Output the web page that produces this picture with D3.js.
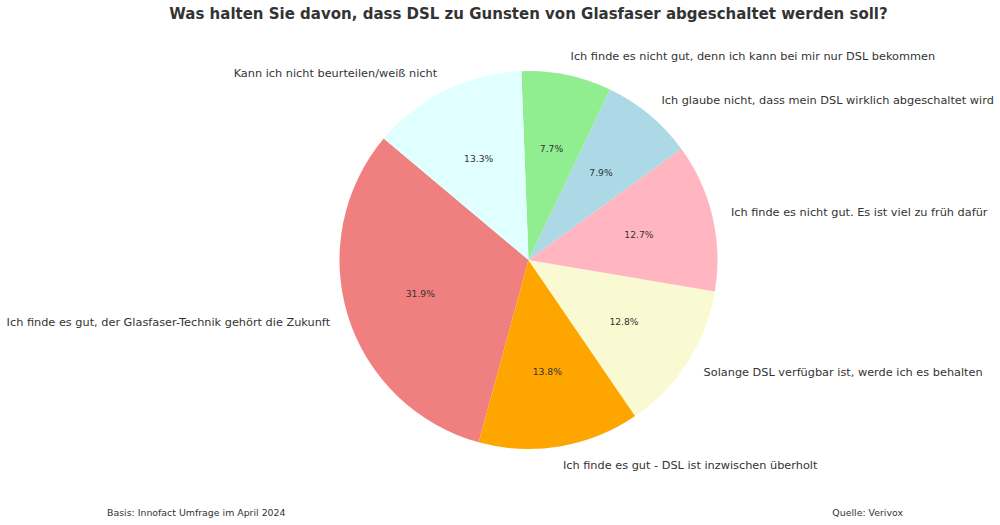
<!DOCTYPE html>
<html><head><meta charset="utf-8">
<script src="https://cdn.jsdelivr.net/npm/d3@7"></script>
<style>body{margin:0;background:#fff}</style>
</head><body>
<svg id="c" width="1000" height="525"></svg>
<script>
const categories = [
  "Ich finde es gut, der Glasfaser-Technik gehört die Zukunft",
  "Ich finde es gut - DSL ist inzwischen überholt",
  "Solange DSL verfügbar ist, werde ich es behalten",
  "Ich finde es nicht gut. Es ist viel zu früh dafür",
  "Ich glaube nicht, dass mein DSL wirklich abgeschaltet wird",
  "Ich finde es nicht gut, denn ich kann bei mir nur DSL bekommen",
  "Kann ich nicht beurteilen/weiß nicht"
];
const values = [31.9, 13.8, 12.8, 12.7, 7.9, 7.7, 13.3];
const colors = ["#F08080", "#FFA500", "#FAFAD2", "#FFB6C1", "#ADD8E6", "#90EE90", "#E0FFFF"];
const title = "Was halten Sie davon, dass DSL zu Gunsten von Glasfaser abgeschaltet werden soll?";
const footLeft = "Basis: Innofact Umfrage im April 2024";
const footRight = "Quelle: Verivox";

const svg = d3.select("#c");
const cx = 528.5, cy = 260, r = 189;
const font = "DejaVu Sans, sans-serif";
const txt = "#333";

const startDeg = 140; // matplotlib-style start angle, counter-clockwise
const a0 = (90 - startDeg) * Math.PI / 180;
const pie = d3.pie().sort(null).value(d => d.v).startAngle(a0).endAngle(a0 - 2 * Math.PI);
const data = pie(values.map((v, i) => ({v, c: categories[i], col: colors[i]})));
const arc = d3.arc().innerRadius(0).outerRadius(r);

const g = svg.append("g").attr("transform", `translate(${cx},${cy})`);
g.selectAll("path.slice").data(data).join("path")
  .attr("d", arc).attr("fill", d => d.data.col);

const total = d3.sum(values);
g.selectAll("text.pct").data(data).join("text")
  .attr("x", d => 0.6 * r * Math.sin((d.startAngle + d.endAngle) / 2))
  .attr("y", d => -0.6 * r * Math.cos((d.startAngle + d.endAngle) / 2))
  .attr("text-anchor", "middle").attr("dominant-baseline", "central")
  .style("font-family", font).style("font-size", "9.2px").attr("fill", txt)
  .text(d => (d.data.v / total * 100).toFixed(1) + "%");

g.selectAll("text.lab").data(data).join("text")
  .attr("x", d => 1.1 * r * Math.sin((d.startAngle + d.endAngle) / 2))
  .attr("y", d => -1.1 * r * Math.cos((d.startAngle + d.endAngle) / 2))
  .attr("text-anchor", d => Math.sin((d.startAngle + d.endAngle) / 2) > 0 ? "start" : "end")
  .attr("dominant-baseline", "central")
  .style("font-family", font).style("font-size", "11.3px").attr("fill", txt)
  .text(d => d.data.c);

svg.append("text").attr("x", cx).attr("y", 14).attr("text-anchor", "middle")
  .attr("dominant-baseline", "central")
  .style("font-family", font).style("font-size", "15px").style("font-weight", "bold")
  .attr("fill", txt).text(title);

svg.append("text").attr("x", 107).attr("y", 512).attr("dominant-baseline", "central")
  .style("font-family", font).style("font-size", "9.4px").attr("fill", txt).text(footLeft);
svg.append("text").attr("x", 903).attr("y", 512).attr("text-anchor", "end").attr("dominant-baseline", "central")
  .style("font-family", font).style("font-size", "9.4px").attr("fill", txt).text(footRight);
</script></body></html>
